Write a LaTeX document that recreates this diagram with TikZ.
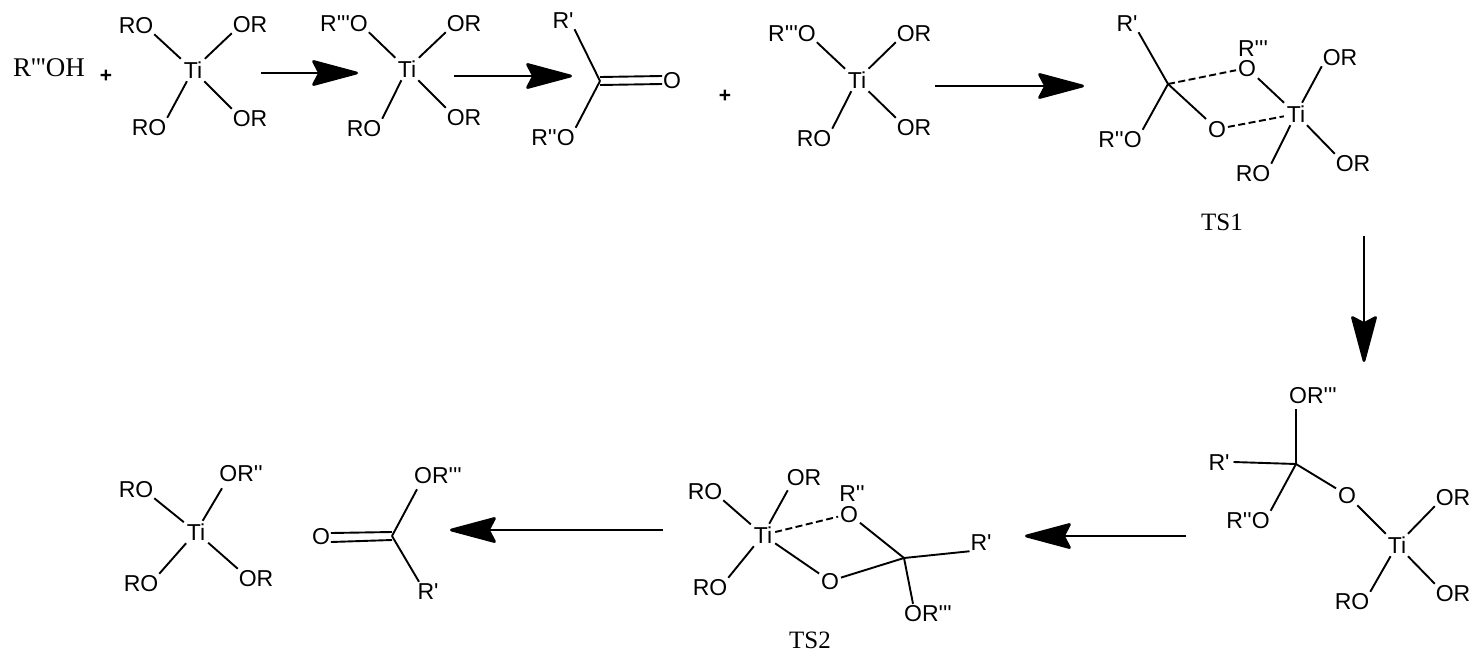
\documentclass[tikz,border=0pt]{standalone}
\usepackage{fontspec}
\newfontfamily\chemfont{Liberation Sans}
\newfontfamily\capfont{Liberation Serif}
\usetikzlibrary{arrows.meta}
\tikzset{
  atom/.style={font=\chemfont\fontsize{23}{23}\selectfont,inner sep=1pt,outer sep=0pt,text height=16.5pt,text depth=0pt},
  metal/.style={atom,inner sep=3pt},
  oxy/.style={atom,inner sep=2pt},
  caption/.style={font=\capfont\fontsize{25}{25}\selectfont,inner sep=0pt},
  reagent/.style={font=\capfont\fontsize{27}{27}\selectfont,inner sep=0pt},
  plus/.style={font=\chemfont\bfseries\fontsize{21}{21}\selectfont,inner sep=0pt},
  bond/.style={draw=black,line width=1.9pt},
  dbond/.style={bond,dash pattern=on 7pt off 3.5pt},
  rxn/.style={draw=black,line width=2.8pt,-{Stealth[length=51pt,width=27pt,inset=7pt,round=false]}}
}
\begin{document}
\begin{tikzpicture}[x=1pt,y=-1pt]
\path[fill=white,use as bounding box] (0,0) rectangle (1482,654);
% reagent
\node[reagent] (alc) at (49,68) {R'''OH};
\node[plus] (p1) at (106,76) {+};
% Ti(OR)4
\node[metal] (ti1) at (193,70) {Ti};
\node[atom] (a1) at (136,25) {RO};
\node[atom] (a2) at (250,24) {OR};
\node[atom] (a3) at (149,127) {RO};
\node[atom] (a4) at (250,118) {OR};
\draw[bond] (ti1) -- (a1.south east);
\draw[bond] (ti1) -- (a2.south west);
\draw[bond] (ti1) -- (a3.north east);
\draw[bond] (ti1) -- (a4.north west);
% arrow 1
\coordinate (s1) at (261,73); \coordinate (e1) at (358,73);
\draw[rxn] (s1) -- (e1);
% R'''O-Ti(OR)3
\node[metal] (ti2) at (407,69) {Ti};
\node[atom] (b1) at (344,23) {R'''O};
\node[atom] (b2) at (464,23) {OR};
\node[atom] (b3) at (364,128) {RO};
\node[atom] (b4) at (464,117) {OR};
\draw[bond] (ti2) -- (b1.south east);
\draw[bond] (ti2) -- (b2.south west);
\draw[bond] (ti2) -- (b3.north east);
\draw[bond] (ti2) -- (b4.north west);
% arrow 2
\coordinate (s2) at (454,76); \coordinate (e2) at (572,76);
\draw[rxn] (s2) -- (e2);
% ester
\coordinate (c1) at (600,81);
\node[atom] (e1r) at (563,20) {R'};
\node[atom] (e1o) at (553,137) {R''O};
\node[atom] (e1d) at (672,80) {O};
\draw[bond] (c1) -- (e1r.south east);
\draw[bond] (c1) -- (e1o.north east);
\draw[bond] ([yshift=4pt]c1) -- ([yshift=4pt]e1d.west);
\draw[bond] ([yshift=-4pt]c1) -- ([yshift=-4pt]e1d.west);
\node[plus] (p2) at (725,96) {+};
% Ti 3
\node[metal] (ti3) at (857,80) {Ti};
\node[atom] (d1) at (792,33) {R'''O};
\node[atom] (d2) at (914,33) {OR};
\node[atom] (d3) at (814,138) {RO};
\node[atom] (d4) at (914,127) {OR};
\draw[bond] (ti3) -- (d1.south east);
\draw[bond] (ti3) -- (d2.south west);
\draw[bond] (ti3) -- (d3.north east);
\draw[bond] (ti3) -- (d4.north west);
% arrow 3
\coordinate (s3) at (935,86); \coordinate (e3) at (1084,86);
\draw[rxn] (s3) -- (e3);
% TS1
\coordinate (c2) at (1168,84);
\node[metal] (ti4) at (1296,114) {Ti};
\node[atom] (f1) at (1127,23) {R'};
\node[atom] (f2) at (1120,139) {R''O};
\node[oxy] (f3) at (1247,68) {O};
\node[atom] (f4) at (1253,48) {R'''};
\node[oxy] (f5) at (1217,129) {O};
\node[atom] (f6) at (1340,57) {OR};
\node[atom] (f7) at (1353,163) {OR};
\node[atom] (f8) at (1253,173) {RO};
\draw[bond] (c2) -- (f1.south east);
\draw[bond] (c2) -- (f2.north east);
\draw[dbond] (c2) -- (f3);
\draw[bond] (c2) -- (f5);
\draw[bond] (f3) -- (ti4);
\draw[dbond] (f5) -- (ti4);
\draw[bond] (ti4) -- (f6.south west);
\draw[bond] (ti4) -- (f7.north west);
\draw[bond] (ti4) -- (f8.north east);
\node[caption] (ts1) at (1222,222) {TS1};
% arrow down
\coordinate (s4) at (1364,236); \coordinate (e4) at (1364,362);
\draw[rxn] (s4) -- (e4);
% intermediate
\coordinate (c3) at (1296,464);
\node[metal] (ti5) at (1397,545) {Ti};
\node[atom] (g1) at (1313,395) {OR'''};
\node[atom] (g2) at (1219,462) {R'};
\node[atom] (g3) at (1248,520) {R''O};
\node[oxy] (g4) at (1347,495) {O};
\node[atom] (g5) at (1453,497) {OR};
\node[atom] (g6) at (1453,593) {OR};
\node[atom] (g7) at (1352,601) {RO};
\draw[bond] (c3) -- ([xshift=-17pt,yshift=-5pt]g1.south);
\draw[bond] (c3) -- ([xshift=3pt]g2.east);
\draw[bond] (c3) -- (g3.north east);
\draw[bond] (c3) -- (g4);
\draw[bond] (g4) -- (ti5);
\draw[bond] (ti5) -- (g5.south west);
\draw[bond] (ti5) -- (g6.north west);
\draw[bond] (ti5) -- (g7.north east);
% arrow 4
\coordinate (s5) at (1186,536); \coordinate (e5) at (1025,536);
\draw[rxn] (s5) -- (e5);
% TS2
\coordinate (c4) at (904,558);
\node[metal] (ti6) at (763,535) {Ti};
\node[atom] (h1) at (804,477) {OR};
\node[atom] (h2) at (705,491) {RO};
\node[atom] (h3) at (710,587) {RO};
\node[oxy] (h4) at (849,514) {O};
\node[atom] (h5) at (852,493) {R''};
\node[oxy] (h6) at (830,581) {O};
\node[atom] (h7) at (981,542) {R'};
\node[atom] (h8) at (928,613) {OR'''};
\draw[bond] (ti6) -- ([xshift=2pt,yshift=-4pt]h1.south west);
\draw[bond] (ti6) -- (h2.south east);
\draw[bond] (ti6) -- (h3.north east);
\draw[dbond] (ti6) -- (h4);
\draw[bond] (ti6) -- (h6);
\draw[bond] (h4) -- (c4);
\draw[bond] (h6) -- (c4);
\draw[bond] (c4) -- (h7.south west);
\draw[bond] (c4) -- ([xshift=-15pt]h8.north);
\node[caption] (ts2) at (810,640) {TS2};
% arrow 5
\coordinate (s6) at (663,530); \coordinate (e6) at (450,530);
\draw[rxn] (s6) -- (e6);
% ester product
\coordinate (c5) at (392,536);
\node[atom] (i1) at (321,536) {O};
\node[atom] (i2) at (438,475) {OR'''};
\node[atom] (i3) at (428,591) {R'};
\draw[bond] ([yshift=4pt]c5) -- ([yshift=3pt]i1.east);
\draw[bond] ([yshift=-4pt]c5) -- ([yshift=-6pt]i1.east);
\draw[bond] (c5) -- ([xshift=-21pt,yshift=-5pt]i2.south);
\draw[bond] (c5) -- ([xshift=-9pt]i3.north);
% Ti product
\node[metal] (ti7) at (196,532) {Ti};
\node[atom] (j1) at (136,489) {RO};
\node[atom] (j2) at (241,473) {OR''};
\node[atom] (j3) at (141,583) {RO};
\node[atom] (j4) at (256,578) {OR};
\draw[bond] (ti7) -- (j1.south east);
\draw[bond] (ti7) -- ([xshift=-19pt,yshift=-6pt]j2.south);
\draw[bond] (ti7) -- (j3.north east);
\draw[bond] (ti7) -- (j4.north west);
\end{tikzpicture}
\end{document}
